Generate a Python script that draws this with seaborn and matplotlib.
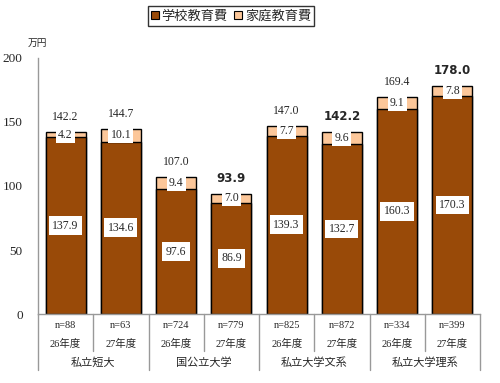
import matplotlib
matplotlib.use("Agg")
import matplotlib.pyplot as plt
from matplotlib.patches import Patch
import seaborn as sns
import pandas as pd

# --- data ---
groups = ["私立短大", "国公立大学", "私立大学文系", "私立大学理系"]
years = ["26年度", "27年度"] * 4
n_labels = ["n=88", "n=63", "n=724", "n=779", "n=825", "n=872", "n=334", "n=399"]
school = [137.9, 134.6, 97.6, 86.9, 139.3, 132.7, 160.3, 170.3]
home = [4.2, 10.1, 9.4, 7.0, 7.7, 9.6, 9.1, 7.8]
totals = ["142.2", "144.7", "107.0", "93.9", "147.0", "142.2", "169.4", "178.0"]
bold_total = [False, False, False, True, False, True, False, True]

BROWN = "#994A08"
PEACH = "#FCC79A"
SERIF = ["Liberation Serif", "Noto Sans CJK JP"]

sns.set_style("white")
plt.rcParams["font.family"] = SERIF

df = pd.DataFrame({"pos": [str(i) for i in range(8)], "school": school, "home": home})
df["stack"] = df["school"] + df["home"]

fig = plt.figure(figsize=(5.0, 3.83), dpi=100)
ax = fig.add_axes([0.076, 0.180, 0.884, 0.669])

sns.barplot(data=df, x="pos", y="stack", color=PEACH, width=0.72, saturation=1,
            edgecolor="black", linewidth=1.0, ax=ax)
sns.barplot(data=df, x="pos", y="school", color=BROWN, width=0.72, saturation=1,
            edgecolor="black", linewidth=1.0, ax=ax)

ax.set_xlim(-0.5, 7.5)
ax.set_ylim(0, 200)
ax.set_yticks([0, 50, 100, 150, 200])
ax.set_yticklabels(["0", "50", "100", "150", "200"], fontsize=9.5)
ax.tick_params(axis="y", length=2.5, width=0.8, color="#888888", pad=8.5, direction="out")
ax.set_xticks([])
ax.set_xlabel("")
ax.set_ylabel("")
for s in ["top", "right"]:
    ax.spines[s].set_visible(False)
for s in ["left", "bottom"]:
    ax.spines[s].set_color("#999999")
    ax.spines[s].set_linewidth(1.0)

box = dict(facecolor="white", edgecolor="none", pad=2.5)
for i in range(8):
    ax.text(i, school[i] / 2, f"{school[i]:.1f}", ha="center", va="center",
            fontsize=8.5, bbox=box)
    ax.text(i, school[i] + home[i] / 2, f"{home[i]:.1f}", ha="center", va="center",
            fontsize=8.5, bbox=dict(facecolor="white", edgecolor="none", pad=1.5))
    top = school[i] + home[i]
    if bold_total[i]:
        ax.text(i, top + 7, totals[i], ha="center", va="bottom", fontsize=8.5,
                fontweight="bold", family=["DejaVu Sans"])
    else:
        ax.text(i, top + 7, totals[i], ha="center", va="bottom", fontsize=8.5)

# category table under the axis
trans = ax.get_xaxis_transform()
for i in range(8):
    ax.text(i, -0.043, n_labels[i], transform=trans, ha="center", va="center", fontsize=7.5)
    ax.text(i, -0.117, years[i], transform=trans, ha="center", va="center", fontsize=7.5)
for g in range(4):
    ax.text(2 * g + 0.5, -0.19, groups[g], transform=trans, ha="center", va="center",
            fontsize=8)
for k in range(9):
    x = k - 0.5
    bottom = -0.22 if k % 2 == 0 else -0.145
    ax.plot([x, x], [0, bottom], transform=trans, color="#999999", lw=1.0, clip_on=False)

fig.text(0.075, 0.888, "万円", fontsize=7, ha="center", va="center",
         family=["Noto Sans CJK JP"])

handles = [Patch(facecolor=BROWN, edgecolor="black", linewidth=0.8, label="学校教育費"),
           Patch(facecolor=PEACH, edgecolor="black", linewidth=0.8, label="家庭教育費")]
leg = fig.legend(handles=handles, loc="center", bbox_to_anchor=(0.462, 0.958), ncol=2,
                 frameon=True, fancybox=False, edgecolor="black", handlelength=0.6,
                 handleheight=0.6, handletextpad=0.2, columnspacing=0.5, borderpad=0.25,
                 prop={"family": "Noto Sans CJK JP", "size": 9.5})
leg.get_frame().set_linewidth(1.0)

fig.savefig("out.png", dpi=100)
